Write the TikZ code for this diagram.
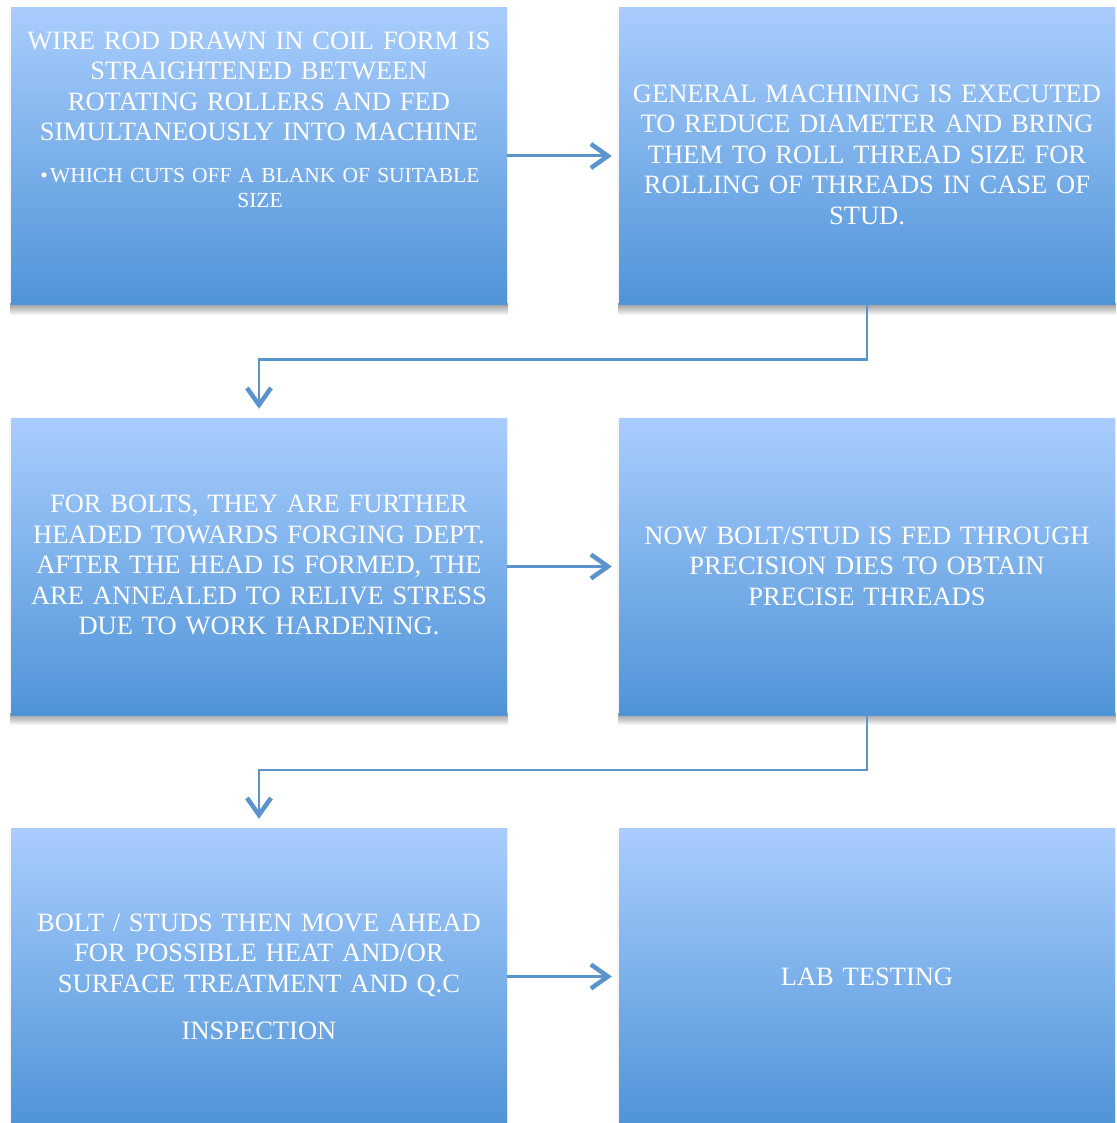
\documentclass[tikz,border=0pt]{standalone}
\usepackage{fontspec}
\setmainfont{Liberation Serif}
\usetikzlibrary{arrows.meta,backgrounds}
\definecolor{boxtop}{HTML}{A9CDFD}
\definecolor{boxbot}{HTML}{4F94D8}
\definecolor{conncol}{HTML}{5B93CC}
\tikzset{
  procbox/.style={minimum width=496pt, minimum height=297pt, inner sep=0pt,
    top color=boxtop, bottom color=boxbot, draw=none},
  maintext/.style={text=white, align=center, inner sep=0pt, text width=494pt,
    font=\fontsize{26.5}{30.5}\selectfont},
  subtext/.style={text=white, align=center, inner sep=0pt, text width=494pt,
    font=\fontsize{21.5}{25}\selectfont},
  flowarrow/.style={draw=conncol, line width=3pt, shorten >=7pt,
    -{Straight Barb[length=17pt,width=24pt,line width=4.5pt]}},
  elbowarrow/.style={draw=conncol, line width=2.5pt, shorten >=9pt,
    -{Straight Barb[length=17pt,width=24pt,line width=4.5pt]}},
  shadowlayer/.style={fill=black, opacity=0.04},
  sideshadow/.style={fill=black, opacity=0.035},
}
\begin{document}
\begin{tikzpicture}[x=1pt,y=-1pt]
\useasboundingbox (0,0) rectangle (1116,1123);

% boxes
\node[procbox] (b1) at (259,156) {};
\node[procbox] (b2) at (867,156) {};
\node[procbox] (b3) at (259,566.5) {};
\node[procbox] (b4) at (867,566.5) {};
\node[procbox] (b5) at (259,976.5) {};
\node[procbox] (b6) at (867,976.5) {};

% page background and soft shadows
\begin{scope}[on background layer]
\fill[white] (0,0) rectangle (1116,1123);
\foreach \b in {b1,b2,b3,b4,b5,b6}{
  \fill[sideshadow] ([xshift=-1.5pt,yshift=-2pt]\b.north west) rectangle ([xshift=1pt]\b.south east);
  \foreach \k in {1,...,10}{
    \fill[shadowlayer] ([xshift=-1pt,yshift=2pt]\b.south west) rectangle ([xshift=0.5pt,yshift=-\k pt]\b.south east);
  }
}
\end{scope}

% texts
\node[maintext] (t1a) at (259,86.3) {WIRE ROD DRAWN IN COIL FORM IS\\STRAIGHTENED BETWEEN\\ROTATING ROLLERS AND FED\\SIMULTANEOUSLY INTO MACHINE};
\node[subtext] (t1b) at (260,187.5) {\textbullet\kern2pt WHICH CUTS OFF A BLANK OF SUITABLE\\SIZE};
\node[maintext] (t2) at (867,154.5) {GENERAL MACHINING IS EXECUTED\\TO REDUCE DIAMETER AND BRING\\THEM TO ROLL THREAD SIZE FOR\\ROLLING OF THREADS IN CASE OF\\STUD.};
\node[maintext] (t3) at (259,565) {FOR BOLTS, THEY ARE FURTHER\\HEADED TOWARDS FORGING DEPT.\\AFTER THE HEAD IS FORMED, THE\\ARE ANNEALED TO RELIVE STRESS\\DUE TO WORK HARDENING.};
\node[maintext] (t4) at (867,566) {NOW BOLT/STUD IS FED THROUGH\\PRECISION DIES TO OBTAIN\\PRECISE THREADS};
\node[maintext] (t5) at (259,976.5) {BOLT / STUDS THEN MOVE AHEAD\\FOR POSSIBLE HEAT AND/OR\\SURFACE TREATMENT AND Q.C\\[16.5pt]INSPECTION};
\node[maintext] (t6) at (867,977) {LAB TESTING};

% connectors
\draw[flowarrow] (b1.east) -- (b2.west);
\draw[flowarrow] (b3.east) -- (b4.west);
\draw[flowarrow] (b5.east) -- (b6.west);
\draw[elbowarrow] (b2.south) -- ++(0,55) -| (b3.north);
\draw[elbowarrow] (b4.south) -- ++(0,55) -| (b5.north);
\end{tikzpicture}
\end{document}
